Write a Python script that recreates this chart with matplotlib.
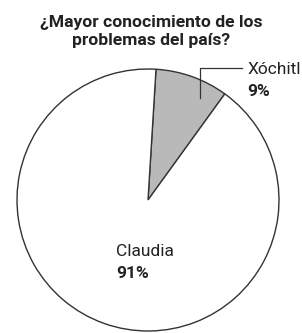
import matplotlib
matplotlib.use("Agg")
import matplotlib.pyplot as plt

# data
labels = ['Xóchitl', 'Claudia']
values = [9, 91]
colors = ['#b9b9b9', '#ffffff']
title = '¿Mayor conocimiento de los\nproblemas del país?'

W, H = 302, 333
fig = plt.figure(figsize=(W / 100, H / 100), dpi=100)
ax = fig.add_axes([0, 0, 1, 1])

ax.pie(values, colors=colors, startangle=86.5, counterclock=False,
       center=(148, 133), radius=131,
       wedgeprops=dict(edgecolor='#333333', linewidth=1.0))
ax.set_xlim(0, W)
ax.set_ylim(0, H)
ax.set_aspect('equal')
ax.axis('off')

# title, one text per line so the spacing can match
for i, line in enumerate(title.split('\n')):
    ax.text(151, H - 27 - 17.5 * i, line, ha='center', va='baseline',
            fontsize=12.6, fontweight='bold', family='Roboto', color='#222222')

# leader line for Xóchitl
ax.plot([200, 200, 242], [H - 98, H - 68, H - 68], color='#333333', lw=0.9)
ax.text(247, H - 70, labels[0], ha='left', va='center', fontsize=12.5,
        family='Roboto', color='#222222')
ax.text(247, H - 91, f'{values[0]}%', ha='left', va='center', fontsize=12.5,
        family='Roboto', fontweight='bold', color='#222222')

# Claudia label
ax.text(116, H - 251, labels[1], ha='left', va='center', fontsize=12.5,
        family='Roboto', color='#222222')
ax.text(116, H - 273, f'{values[1]}%', ha='left', va='center', fontsize=12.5,
        family='Roboto', fontweight='bold', color='#222222')

fig.savefig('out.png', dpi=100, facecolor='white')
